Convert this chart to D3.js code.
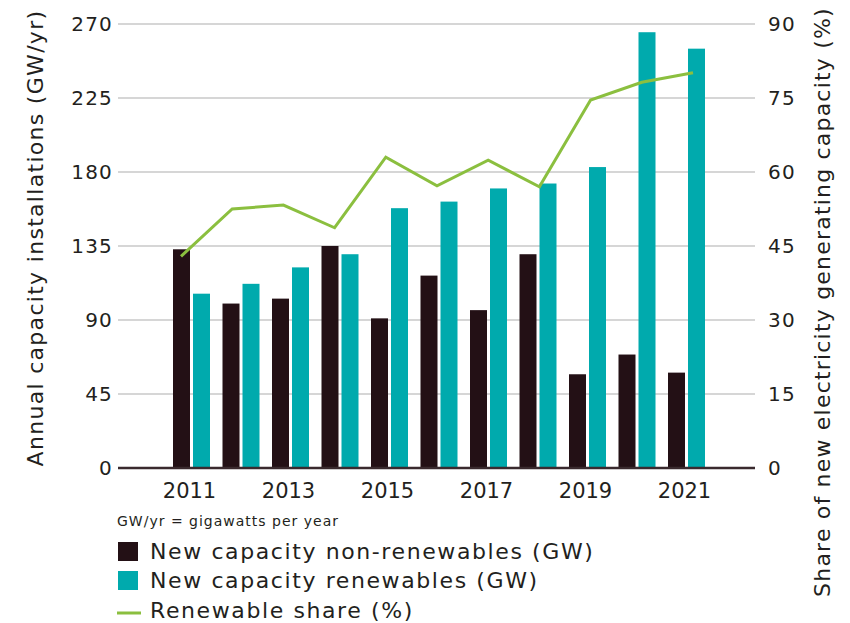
<!DOCTYPE html>
<html>
<head>
<meta charset="utf-8">
<script src="https://cdn.jsdelivr.net/npm/d3@7"></script>
<style>
  html, body { margin: 0; padding: 0; background: #fff; }
  svg text { font-family: "DejaVu Sans", sans-serif; fill: #231f20; }
</style>
</head>
<body>
<svg id="chart" width="850" height="623"></svg>
<script>
const years = [2011, 2012, 2013, 2014, 2015, 2016, 2017, 2018, 2019, 2020, 2021];
const nonRenewables = [133, 100, 103, 135, 91, 117, 96, 130, 57, 69, 58];
const renewables = [106, 112, 122, 130, 158, 162, 170, 173, 183, 265, 255];
const renewableShare = [42.9, 52.5, 53.3, 48.7, 63.0, 57.2, 62.4, 57.0, 74.6, 78.2, 80.1];
const leftTicks = [0, 45, 90, 135, 180, 225, 270];
const rightTicks = [0, 15, 30, 45, 60, 75, 90];
const xTickYears = [2011, 2013, 2015, 2017, 2019, 2021];
const seriesNames = ["New capacity non-renewables (GW)", "New capacity renewables (GW)", "Renewable share (%)"];

const colors = { non: "#231015", ren: "#00aaad", share: "#8bbf3f", grid: "#d6d6d6", axis: "#3a2a2e" };

const svg = d3.select("#chart");
const plotLeft = 118, plotRight = 755, yTop = 24, yBottom = 468;

const yL = d3.scaleLinear().domain([0, 270]).range([yBottom, yTop]);
const yR = d3.scaleLinear().domain([0, 90]).range([yBottom, yTop]);

const x0 = d3.scaleBand().domain(years).range([166.75, 711.25])
  .paddingInner(0.2525).paddingOuter(0.12625);
const x1 = d3.scaleBand().domain([0, 1]).range([0, x0.bandwidth()]).paddingInner(0.15);
const xLine = d3.scalePoint().domain(years).range([181, 693]);

// gridlines
svg.append("g").selectAll("line").data(leftTicks.filter(d => d > 0)).join("line")
  .attr("x1", plotLeft).attr("x2", plotRight)
  .attr("y1", d => yL(d)).attr("y2", d => yL(d))
  .attr("stroke", colors.grid).attr("stroke-width", 2);

// left tick labels
svg.append("g").selectAll("text").data(leftTicks).join("text")
  .attr("x", 113).attr("y", d => yL(d)).attr("dy", "0.35em")
  .attr("text-anchor", "end").style("font-size", "20px").style("letter-spacing", "1.2px").text(d => d);

// right tick labels
svg.append("g").selectAll("text").data(rightTicks).join("text")
  .attr("x", 768).attr("y", d => yR(d)).attr("dy", "0.35em")
  .attr("text-anchor", "start").style("font-size", "20px").style("letter-spacing", "1.2px").text(d => d);

// bars
const groups = svg.append("g").selectAll("g").data(years).join("g")
  .attr("transform", d => `translate(${x0(d)},0)`);
groups.append("rect")
  .attr("x", x1(0)).attr("width", x1.bandwidth())
  .attr("y", (d, i) => yL(nonRenewables[i]))
  .attr("height", (d, i) => yBottom - yL(nonRenewables[i]))
  .attr("fill", colors.non);
groups.append("rect")
  .attr("x", x1(1)).attr("width", x1.bandwidth())
  .attr("y", (d, i) => yL(renewables[i]))
  .attr("height", (d, i) => yBottom - yL(renewables[i]))
  .attr("fill", colors.ren);

// baseline
svg.append("line").attr("x1", plotLeft).attr("x2", plotRight)
  .attr("y1", yBottom).attr("y2", yBottom)
  .attr("stroke", colors.axis).attr("stroke-width", 2.5);

// x tick labels
svg.append("g").selectAll("text").data(xTickYears).join("text")
  .attr("x", d => x0(d) + x0.bandwidth() / 2 - 2).attr("y", 498)
  .attr("text-anchor", "middle").style("font-size", "21px").text(d => d);

// line
const line = d3.line().x((d, i) => xLine(years[i])).y(d => yR(d));
svg.append("path").datum(renewableShare).attr("d", line)
  .attr("fill", "none").attr("stroke", colors.share).attr("stroke-width", 3)
  .attr("stroke-linejoin", "miter");

// axis titles
svg.append("text").attr("transform", "translate(43,238) rotate(-90)")
  .attr("text-anchor", "middle").style("font-size", "22px").style("letter-spacing", "1.3px")
  .text("Annual capacity installations (GW/yr)");
svg.append("text").attr("transform", "translate(830,302) rotate(-90)")
  .attr("text-anchor", "middle").style("font-size", "22px").style("letter-spacing", "1.2px")
  .text("Share of new electricity generating capacity (%)");

// note
svg.append("text").attr("x", 117).attr("y", 526).style("font-size", "14px").style("letter-spacing", "1px")
  .text("GW/yr = gigawatts per year");

// legend
const leg = svg.append("g");
const rowsY = [551, 580, 610];
leg.append("rect").attr("x", 118).attr("y", rowsY[0] - 9).attr("width", 20).attr("height", 19).attr("fill", colors.non);
leg.append("rect").attr("x", 118).attr("y", rowsY[1] - 9).attr("width", 20).attr("height", 19).attr("fill", colors.ren);
leg.append("line").attr("x1", 117).attr("x2", 141).attr("y1", rowsY[2] + 3).attr("y2", rowsY[2] + 3)
  .attr("stroke", colors.share).attr("stroke-width", 3);
leg.selectAll("text.lab").data(seriesNames).join("text").attr("class", "lab")
  .attr("x", 150).attr("y", (d, i) => rowsY[i]).attr("dy", "0.35em")
  .style("font-size", "22px").style("letter-spacing", "1.6px").text(d => d);
</script>
</body>
</html>
